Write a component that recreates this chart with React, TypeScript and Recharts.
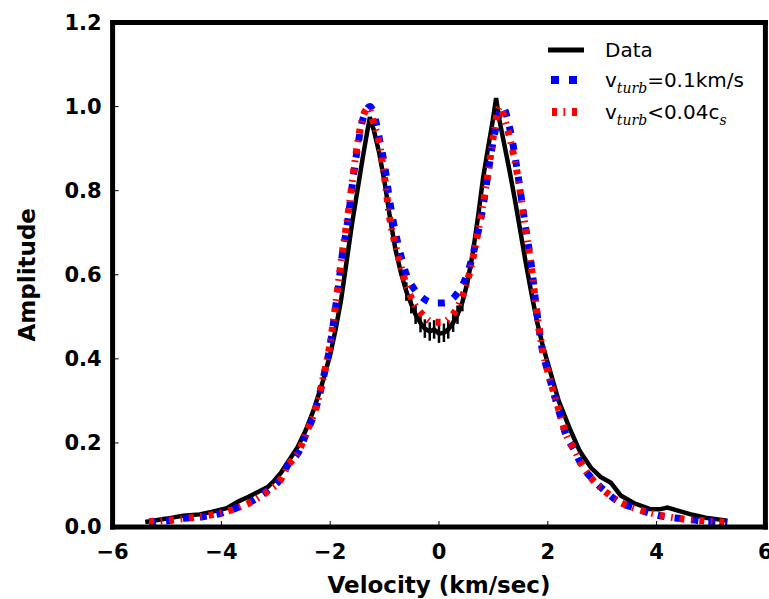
import React from "react";
import {
  LineChart,
  Line,
  XAxis,
  YAxis,
  Legend,
  ErrorBar,
} from "recharts";

// velocity (km/s) and amplitude
const dataX = [
  -5.4, -5.0, -4.7, -4.4, -4.18, -3.9, -3.7, -3.5, -3.3, -3.15, -3.03, -2.9,
  -2.75, -2.6, -2.45, -2.3, -2.15, -2.0, -1.9, -1.8, -1.7, -1.6, -1.5, -1.4,
  -1.32, -1.27, -1.24, -1.2, -1.1, -1.0, -0.9, -0.8, -0.7, -0.6, -0.51, -0.43,
  -0.34, -0.26, -0.17, -0.09, 0.0, 0.09, 0.17, 0.26, 0.34, 0.43, 0.52, 0.62,
  0.72, 0.81, 0.9, 0.98, 1.05, 1.1, 1.2, 1.3, 1.4, 1.5, 1.6, 1.7, 1.8, 1.9,
  2.0, 2.2, 2.4, 2.59, 2.8, 2.97, 3.16, 3.34, 3.58, 3.87, 4.05, 4.2, 4.36,
  4.66, 4.9, 5.2, 5.3,
];
const dataY = [
  0.012, 0.02, 0.027, 0.03, 0.036, 0.045, 0.06, 0.072, 0.085, 0.095, 0.11,
  0.13, 0.16, 0.19, 0.23, 0.28, 0.34, 0.41, 0.47, 0.54, 0.63, 0.72, 0.8, 0.88,
  0.94, 0.975, 0.96, 0.945, 0.89, 0.82, 0.735, 0.66, 0.605, 0.56, 0.53, 0.505,
  0.485, 0.472, 0.465, 0.47, 0.46, 0.462, 0.47, 0.486, 0.505, 0.535, 0.58,
  0.65, 0.74, 0.83, 0.9, 0.96, 1.02, 0.975, 0.91, 0.845, 0.775, 0.7, 0.625,
  0.555, 0.49, 0.435, 0.39, 0.3, 0.235, 0.18, 0.14, 0.119, 0.105, 0.075,
  0.057, 0.043, 0.042, 0.046, 0.04, 0.029, 0.022, 0.017, 0.015,
];
const dataErr = [
  0, 0, 0, 0, 0, 0, 0, 0, 0, 0, 0, 0, 0, 0, 0, 0, 0, 0, 0, 0, 0, 0, 0, 0, 0,
  0, 0, 0, 0, 0, 0, 0, 0, 0.022, 0.022, 0.022, 0.022, 0.022, 0.022, 0.022,
  0.022, 0.022, 0.022, 0.022, 0.022, 0.022, 0, 0, 0, 0, 0, 0, 0, 0, 0, 0, 0,
  0, 0, 0, 0, 0, 0, 0, 0, 0, 0, 0, 0, 0, 0, 0, 0, 0, 0, 0, 0, 0, 0,
];

const turbX = [
  -5.33, -4.97, -4.68, -4.37, -4.0, -3.67, -3.4, -3.14, -2.9, -2.79, -2.56,
  -2.44, -2.31, -2.22, -2.1, -2.01, -1.92, -1.83, -1.77, -1.71, -1.65, -1.57,
  -1.5, -1.41, -1.27, -1.16, -1.1, -1.0, -0.9, -0.8, -0.7, -0.6, -0.45, -0.3,
  -0.1, 0.1, 0.3, 0.45, 0.6, 0.7, 0.8, 0.9, 1.0, 1.08, 1.17, 1.28, 1.35,
  1.46, 1.59, 1.69, 1.81, 1.9, 2.0, 2.15, 2.24, 2.33, 2.48, 2.64, 2.84, 3.03,
  3.3, 3.61, 3.87, 4.18, 4.55, 4.84, 5.19, 5.3,
];
const turbY = [
  0.012, 0.015, 0.021, 0.024, 0.033, 0.048, 0.064, 0.088, 0.117, 0.145,
  0.183, 0.223, 0.263, 0.302, 0.37, 0.425, 0.505, 0.592, 0.655, 0.7, 0.755,
  0.838, 0.9, 0.965, 1.0, 0.964, 0.926, 0.86, 0.77, 0.7, 0.645, 0.6, 0.565,
  0.545, 0.533, 0.533, 0.55, 0.58, 0.636, 0.69, 0.755, 0.84, 0.92, 0.97, 1.0,
  0.96, 0.917, 0.83, 0.714, 0.63, 0.5, 0.42, 0.37, 0.3, 0.26, 0.22, 0.185,
  0.143, 0.112, 0.088, 0.06, 0.045, 0.033, 0.024, 0.019, 0.014, 0.012, 0.011,
];

const sonicX = [
  -5.33, -4.97, -4.68, -4.37, -4.0, -3.67, -3.4, -3.14, -2.9, -2.79, -2.56,
  -2.44, -2.31, -2.22, -2.1, -2.01, -1.92, -1.83, -1.77, -1.71, -1.65, -1.57,
  -1.5, -1.41, -1.3, -1.2, -1.1, -1.0, -0.9, -0.8, -0.7, -0.6, -0.45, -0.3,
  -0.1, 0.05, 0.2, 0.35, 0.5, 0.6, 0.7, 0.8, 0.9, 1.0, 1.12, 1.22, 1.32,
  1.46, 1.59, 1.69, 1.81, 1.9, 2.0, 2.15, 2.24, 2.33, 2.48, 2.64, 2.84, 3.03,
  3.3, 3.61, 3.87, 4.18, 4.55, 4.84, 5.19, 5.3,
];
const sonicY = [
  0.013, 0.016, 0.02, 0.025, 0.034, 0.047, 0.063, 0.086, 0.115, 0.143,
  0.185, 0.225, 0.265, 0.305, 0.372, 0.43, 0.51, 0.6, 0.66, 0.71, 0.765,
  0.845, 0.91, 0.97, 0.997, 0.96, 0.915, 0.83, 0.73, 0.67, 0.62, 0.575, 0.53,
  0.505, 0.487, 0.487, 0.498, 0.525, 0.575, 0.625, 0.69, 0.76, 0.84, 0.93,
  1.0, 0.965, 0.915, 0.825, 0.71, 0.625, 0.5, 0.425, 0.37, 0.302, 0.262,
  0.222, 0.186, 0.145, 0.11, 0.087, 0.061, 0.044, 0.034, 0.025, 0.018, 0.015,
  0.012, 0.011,
];

const xTicks = [-6, -4, -2, 0, 2, 4, 6];
const yTicks = [0, 0.2, 0.4, 0.6, 0.8, 1.0, 1.2];

const dataPts = dataX.map((x, i) => ({ x, y: dataY[i], err: dataErr[i] }));
const turbPts = turbX.map((x, i) => ({ x, y: turbY[i] }));
const sonicPts = sonicX.map((x, i) => ({ x, y: sonicY[i] }));

const frame = { stroke: "#000", strokeWidth: 5, strokeLinecap: "square" as const };
const tickLn = { stroke: "#000", strokeWidth: 1 };
const tickFont = {
  fontFamily: "DejaVu Sans",
  fontWeight: "bold",
  fontSize: 21,
  fill: "#000",
};
const labelFont = {
  fontFamily: "DejaVu Sans",
  fontWeight: "bold",
  fontSize: 23,
  fill: "#000",
};

const fmtX = (v: number) => (v < 0 ? "\u2212" + Math.abs(v) : String(v));

const sub = {
  fontFamily: "DejaVu Serif",
  fontStyle: "italic",
  fontSize: 14,
};

const LegendBox = () => (
  <svg width={769} height={140} style={{ display: "block" }}>
    <g fontFamily="DejaVu Sans" fontSize={20} fill="#000">
      <line x1={548} x2={584} y1={50} y2={50} stroke="#000" strokeWidth={5} />
      <text x={605} y={57}>Data</text>

      <line
        x1={551}
        x2={580}
        y1={80}
        y2={80}
        stroke="#0000ff"
        strokeWidth={8}
        strokeDasharray="8 10"
      />
      <text x={605} y={87}>
        v
        <tspan style={sub} dy={6}>
          turb
        </tspan>
        <tspan dy={-6}>=0.1km/s</tspan>
      </text>

      <line
        x1={552}
        x2={577}
        y1={112}
        y2={112}
        stroke="#ff0000"
        strokeWidth={8}
        strokeDasharray="5 6.5 1.7 6.8"
      />
      <text x={605} y={119}>
        v
        <tspan style={sub} dy={6}>
          turb
        </tspan>
        <tspan dy={-6}>&lt;0.04c</tspan>
        <tspan style={sub} dy={6}>
          s
        </tspan>
      </text>
    </g>
  </svg>
);

export default function App() {
  return (
    <div style={{ position: "absolute", left: 0, top: 0, background: "#fff" }}>
      <LineChart
        width={769}
        height={599}
        margin={{ top: 21.5, right: 2.6, bottom: 0, left: 0 }}
      >
        <XAxis
          dataKey="x"
          type="number"
          domain={[-6, 6]}
          ticks={xTicks}
          interval={0}
          allowDataOverflow
          tickFormatter={fmtX}
          height={72}
          tickSize={-6}
          tickMargin={23}
          axisLine={frame}
          tickLine={tickLn}
          tick={tickFont}
          label={{
            value: "Velocity (km/sec)",
            position: "insideBottom",
            offset: 6,
            style: labelFont,
          }}
        />
        <XAxis
          xAxisId="top"
          orientation="top"
          dataKey="x"
          type="number"
          domain={[-6, 6]}
          ticks={xTicks}
          interval={0}
          height={1}
          tickSize={-6}
          tick={false}
          axisLine={frame}
          tickLine={tickLn}
        />
        <YAxis
          type="number"
          domain={[0, 1.2]}
          ticks={yTicks}
          interval={0}
          allowDataOverflow
          tickFormatter={(v: number) => v.toFixed(1)}
          width={112.6}
          tickSize={-6}
          tickMargin={17}
          axisLine={frame}
          tickLine={tickLn}
          tick={tickFont}
          label={{
            value: "Amplitude",
            angle: -90,
            position: "insideLeft",
            offset: 27,
            style: { ...labelFont, textAnchor: "middle" },
          }}
        />
        <YAxis
          yAxisId="right"
          orientation="right"
          type="number"
          domain={[0, 1.2]}
          ticks={yTicks}
          interval={0}
          width={1}
          tickSize={-6}
          tick={false}
          axisLine={frame}
          tickLine={tickLn}
        />
        <Legend
          layout="horizontal"
          verticalAlign="middle"
          align="center"
          content={() => <LegendBox />}
          wrapperStyle={{ left: 0, top: 0, width: 769, height: 140 }}
        />
        <Line
          data={dataPts}
          dataKey="y"
          type="linear"
          stroke="#000"
          strokeWidth={4.5}
          dot={false}
          isAnimationActive={false}
        >
          <ErrorBar
            dataKey="err"
            direction="y"
            width={0}
            stroke="#000"
            strokeWidth={2.5}
            isAnimationActive={false}
          />
        </Line>
        <Line
          data={turbPts}
          dataKey="y"
          type="monotone"
          stroke="#0000ff"
          strokeWidth={7}
          strokeDasharray="7 10"
          dot={false}
          isAnimationActive={false}
        />
        <Line
          data={sonicPts}
          dataKey="y"
          type="monotone"
          stroke="#ff0000"
          strokeWidth={7}
          strokeDasharray="5 6.5 1.7 6.8"
          dot={false}
          isAnimationActive={false}
        />
      </LineChart>
    </div>
  );
}
